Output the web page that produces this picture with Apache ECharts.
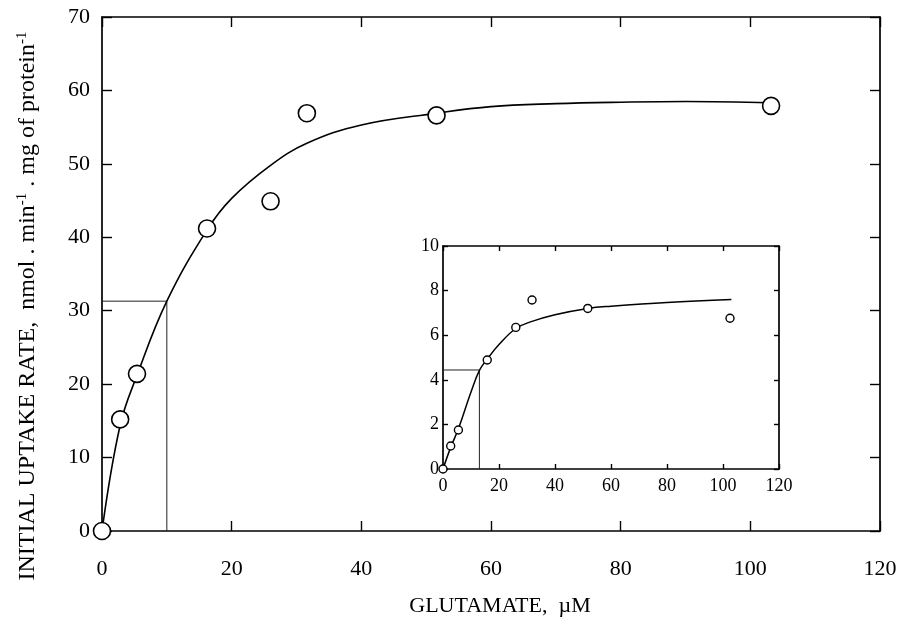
<!DOCTYPE html>
<html>
<head>
<meta charset="utf-8">
<script src="https://cdn.jsdelivr.net/npm/echarts@6/dist/echarts.min.js"></script>
<style>
  html, body { margin: 0; padding: 0; background: #fff; }
  #chart { width: 900px; height: 622px; }
</style>
</head>
<body>
<div id="chart"></div>
<script>
// main plot: measured points
var glutamate = [0, 2.8, 5.4, 16.2, 26, 31.6, 51.6, 103.2];
var uptake = [0, 15.2, 21.4, 41.2, 44.9, 56.9, 56.6, 57.9];
// main plot: fitted curve
var fitX = [0, 2.8, 5.4, 10, 16.2, 20, 26, 31.6, 40, 51.6, 60, 70, 80, 90, 103.2];
var fitY = [0, 14.4, 21.2, 31.3, 41, 45.3, 49.8, 52.8, 55.3, 56.9, 57.8, 58.2, 58.4, 58.5, 58.3];
// guide lines (half-saturation)
var guideX = [0, 10, 10];
var guideY = [31.3, 31.3, 0];

// inset
var insetX = [0, 2.75, 5.5, 15.8, 26, 31.8, 51.7, 102.5];
var insetY = [0, 1.03, 1.75, 4.89, 6.35, 7.58, 7.2, 6.76];
var insetFitX = [0, 2.75, 5.5, 10, 13, 15.8, 20, 26, 31.8, 40, 51.7, 60, 80, 103];
var insetFitY = [0, 0.97, 1.8, 3.45, 4.42, 4.93, 5.58, 6.3, 6.62, 6.92, 7.2, 7.3, 7.47, 7.6];
var insetGuideX = [0, 13, 13];
var insetGuideY = [4.44, 4.44, 0];

var xTicks = [0, 20, 40, 60, 80, 100, 120];
var yTicksMain = [0, 10, 20, 30, 40, 50, 60, 70];
var yTicksInset = [0, 2, 4, 6, 8, 10];

function pairs(xs, ys) {
  return xs.map(function (x, i) { return [x, ys[i]]; });
}

var font = '"Liberation Serif", "Times New Roman", serif';

function xAxisDef(grid, pos, showLabel, size, tickLen, margin, name) {
  return {
    type: 'value', gridIndex: grid, position: pos,
    min: xTicks[0], max: xTicks[xTicks.length - 1], interval: xTicks[1] - xTicks[0],
    axisLine: { show: true, onZero: false, lineStyle: { color: '#000', width: 1.7 } },
    axisTick: { show: true, inside: true, length: tickLen, lineStyle: { color: '#000', width: 1.4 } },
    axisLabel: { show: showLabel, color: '#000', fontFamily: font, fontSize: size, margin: margin },
    splitLine: { show: false },
    name: name || '',
    nameLocation: 'middle',
    nameGap: 64,
    nameTextStyle: { color: '#000', fontFamily: font, fontSize: 22, padding: [0, 0, 0, 18] }
  };
}

function yAxisDef(grid, pos, showLabel, ticks, size, tickLen, margin, name) {
  return {
    type: 'value', gridIndex: grid, position: pos,
    min: ticks[0], max: ticks[ticks.length - 1], interval: ticks[1] - ticks[0],
    axisLine: { show: true, onZero: false, lineStyle: { color: '#000', width: 1.7 } },
    axisTick: { show: true, inside: true, length: tickLen, lineStyle: { color: '#000', width: 1.4 } },
    axisLabel: { show: showLabel, color: '#000', fontFamily: font, fontSize: size, margin: margin },
    splitLine: { show: false },
    name: name || '',
    nameLocation: 'middle',
    nameRotate: 90,
    nameGap: 62,
    nameTextStyle: {
      color: '#000', fontFamily: font, fontSize: 24, padding: [0, 64, 0, 0],
      rich: { sup: { fontFamily: font, fontSize: 15, verticalAlign: 'top', padding: [0, 0, 10, 0] } }
    }
  };
}

var chart = echarts.init(document.getElementById('chart'));
var option = {
  backgroundColor: '#fff',
  animation: false,
  grid: [
    { left: 102, top: 17, right: 20, bottom: 87 },
    { left: 443, top: 246, right: 121, bottom: 153 }
  ],
  xAxis: [
    xAxisDef(0, 'bottom', true, 22, 10, 27, 'GLUTAMATE,  \u00b5M'),
    xAxisDef(0, 'top', false, 22, 10, 27),
    xAxisDef(1, 'bottom', true, 18, 5, 8),
    xAxisDef(1, 'top', false, 18, 5, 8)
  ],
  yAxis: [
    yAxisDef(0, 'left', true, yTicksMain, 22, 10, 12,
      'INITIAL UPTAKE RATE,  nmol . min{sup|-1} . mg of protein{sup|-1}'),
    yAxisDef(0, 'right', false, yTicksMain, 22, 10, 12),
    yAxisDef(1, 'left', true, yTicksInset, 18, 5, 4),
    yAxisDef(1, 'right', false, yTicksInset, 18, 5, 4)
  ],
  series: [
    {
      type: 'line', xAxisIndex: 0, yAxisIndex: 0,
      data: pairs(guideX, guideY), showSymbol: false, silent: true,
      lineStyle: { color: '#222', width: 1 }
    },
    {
      type: 'line', xAxisIndex: 0, yAxisIndex: 0,
      data: pairs(fitX, fitY), smooth: 0.4, showSymbol: false,
      lineStyle: { color: '#000', width: 1.6 }
    },
    {
      type: 'scatter', xAxisIndex: 0, yAxisIndex: 0,
      data: pairs(glutamate, uptake), symbol: 'circle', symbolSize: 17,
      itemStyle: { color: '#fff', borderColor: '#000', borderWidth: 1.6, opacity: 1 },
      z: 5
    },
    {
      type: 'line', xAxisIndex: 2, yAxisIndex: 2,
      data: pairs(insetGuideX, insetGuideY), showSymbol: false, silent: true,
      lineStyle: { color: '#222', width: 1 }
    },
    {
      type: 'line', xAxisIndex: 2, yAxisIndex: 2,
      data: pairs(insetFitX, insetFitY), smooth: 0.4, showSymbol: false,
      lineStyle: { color: '#000', width: 1.5 }
    },
    {
      type: 'scatter', xAxisIndex: 2, yAxisIndex: 2,
      data: pairs(insetX, insetY), symbol: 'circle', symbolSize: 8,
      itemStyle: { color: '#fff', borderColor: '#000', borderWidth: 1.4, opacity: 1 },
      z: 5
    }
  ]
};
chart.setOption(option);
</script>
</body>
</html>
